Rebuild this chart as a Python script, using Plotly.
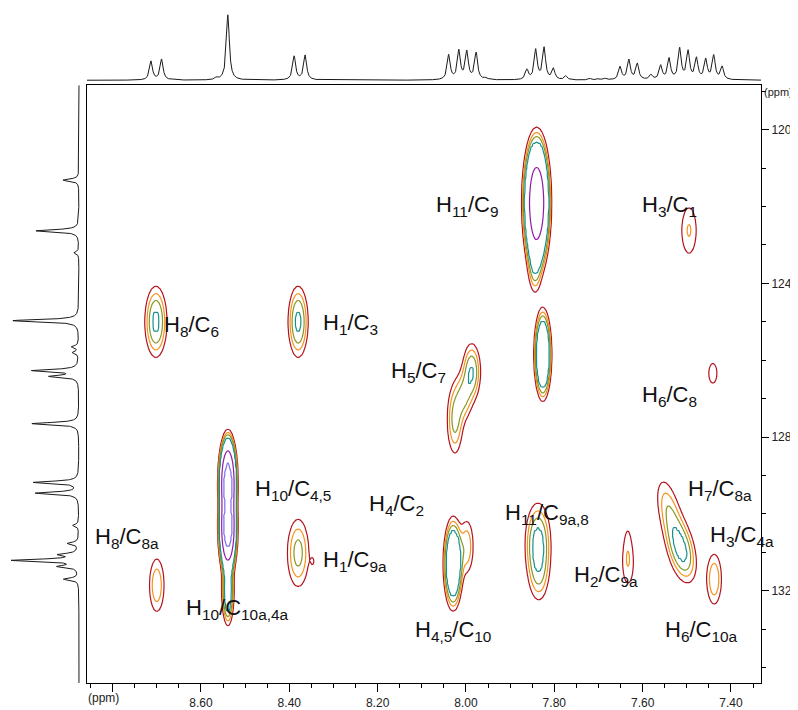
import numpy as np
import plotly.graph_objects as go

# page body has an 8 px margin: figure pixel = screen pixel - 8
OFF = 8
W, H = 790, 702

# ---------------- axis ranges (ppm) ----------------
H_RANGE = [8.858, 7.332]      # 1H, reversed
C_RANGE = [134.41, 118.84]    # 13C, reversed (top = 118.84)

# ---------------- 2D cross-peaks ----------------
pk_h   = [7.840, 7.844, 7.826, 8.539, 8.539, 8.539, 8.702, 8.380, 8.700, 8.380, 8.346,
          7.987, 8.005, 8.025, 8.029, 7.998, 7.837, 7.835, 7.633, 7.634, 7.495,
          7.441, 7.512, 7.540, 7.438]
pk_c   = [121.90, 123.40, 125.85, 129.20, 130.35, 132.00, 125.00, 125.00, 131.86, 131.02, 131.24,
          126.30, 126.95, 127.55, 131.30, 130.85, 130.75, 131.60, 131.30, 130.55, 122.62,
          126.34, 130.95, 129.95, 131.70]
pk_amp = [1.00, 0.06, 0.32, 2.40, 2.40, 0.15, 0.080, 0.080, 0.046, 0.0566, 0.015,
          0.072, 0.045, 0.055, 0.265, 0.045, 0.085, 0.035, 0.031, 0.012, 0.0343,
          0.024, 0.080, 0.045, 0.0468]
pk_sh  = [0.0122, 0.009, 0.0087, 0.0075, 0.0075, 0.0070, 0.0150, 0.0136, 0.0126, 0.0167, 0.005,
          0.0125, 0.012, 0.012, 0.010, 0.011, 0.0168, 0.015, 0.012, 0.008, 0.0154,
          0.015, 0.020, 0.020, 0.0125]
pk_sc  = [0.70, 0.50, 0.515, 0.45, 0.45, 0.45, 0.55, 0.55, 0.52, 0.60, 0.15,
          0.45, 0.40, 0.60, 0.54, 0.50, 0.60, 0.50, 0.52, 0.45, 0.56,
          0.41, 0.50, 0.60, 0.49]
pk_rho = [0, 0, 0, 0, 0, 0, 0, 0, 0, 0, 0,
          0, 0, 0, 0, 0, 0, 0, 0, 0, 0,
          0, -0.4, -0.5, 0]

contour_levels = [0.02, 0.033, 0.048, 0.07, 0.42, 0.95]
contour_colors = ["#b3131c", "#f7921e", "#8a961f", "#15908f", "#9218a6", "#7c6df2"]

# ---------------- 1H projection (top) ----------------
h1_ppm = [8.713, 8.689, 8.565, 8.539, 8.389, 8.364, 8.039, 8.016, 7.998, 7.977,
          7.955, 7.862, 7.842, 7.823, 7.802, 7.774, 7.720, 7.700, 7.685, 7.651,
          7.631, 7.612, 7.581, 7.559, 7.540, 7.516, 7.497, 7.478, 7.457, 7.439, 7.420]
h1_int = [19, 21, 2, 66, 24, 25, 25, 29, 28, 27,
          2, 10, 30, 32, 11, 4, 1.5, 1.5, 1.5, 13,
          20, 16, 5, 14, 21, 31, 28, 21, 20, 24, 13]

# ---------------- 13C projection (left) ----------------
c13_ppm = [121.31, 122.63, 123.20, 124.97, 125.65, 125.80, 126.27, 126.42, 127.65,
           129.18, 129.46, 130.30, 130.77, 131.06, 131.21, 131.37, 131.70]
c13_int = [16, 43, 5, 66, 7, 6, 46, 28, 47,
           45, 43, 6, 11, 18, 66, 19, 15]

# ---------------- cross-peak labels ----------------
lab_text = ["H<sub>11</sub>/C<sub>9</sub>", "H<sub>3</sub>/C<sub>1</sub>", "H<sub>5</sub>/C<sub>7</sub>",
            "H<sub>6</sub>/C<sub>8</sub>", "H<sub>8</sub>/C<sub>6</sub>", "H<sub>1</sub>/C<sub>3</sub>",
            "H<sub>10</sub>/C<sub>4,5</sub>", "H<sub>4</sub>/C<sub>2</sub>", "H<sub>8</sub>/C<sub>8a</sub>",
            "H<sub>1</sub>/C<sub>9a</sub>", "H<sub>10</sub>/C<sub>10a,4a</sub>", "H<sub>4,5</sub>/C<sub>10</sub>",
            "H<sub>11</sub>/C<sub>9a,8</sub>", "H<sub>2</sub>/C<sub>9a</sub>", "H<sub>7</sub>/C<sub>8a</sub>",
            "H<sub>3</sub>/C<sub>4a</sub>", "H<sub>6</sub>/C<sub>10a</sub>"]
lab_h = [8.0725, 7.606, 8.174, 7.606, 8.688, 8.328, 8.482, 8.224, 8.845,
         8.328, 8.638, 8.120, 7.916, 7.760, 7.502, 7.452, 7.554]
lab_c = [121.98, 121.98, 126.30, 126.92, 125.10, 125.05, 129.38, 129.77, 130.64,
         131.24, 132.47, 133.04, 130.00, 131.62, 129.38, 130.59, 133.04]

x_major = [8.80, 8.60, 8.40, 8.20, 8.00, 7.80, 7.60, 7.40]
x_major_text = ["", "8.60", "8.40", "8.20", "8.00", "7.80", "7.60", "7.40"]
y_major = [120, 124, 128, 132]

# ---------------- build 2D map ----------------
hx = np.arange(H_RANGE[1], H_RANGE[0], 0.002)
cy = np.arange(C_RANGE[1], C_RANGE[0], 0.08)
HH, CC = np.meshgrid(hx, cy)
Z = np.zeros_like(HH)
for h0, c0, a, sh, sc, rho in zip(pk_h, pk_c, pk_amp, pk_sh, pk_sc, pk_rho):
    u = (HH - h0) / sh
    v = (CC - c0) / sc
    q = (u * u - 2 * rho * u * v + v * v) / (1 - rho * rho)
    Z += a * np.exp(-0.5 * q)
# map intensity onto level-index space so that contours 0..5 sit on the chosen levels
xp = [0.0] + contour_levels + [1e3]
fp = list(range(-1, len(contour_levels) + 1))
Zi = np.round(np.interp(Z, xp, fp), 3)

# ---------------- 1D spectra ----------------
hs = np.arange(H_RANGE[1], H_RANGE[0], 0.0005)
h_spec = np.zeros_like(hs)
for p, a in zip(h1_ppm, h1_int):
    w = 0.004
    h_spec += a * w * w / ((hs - p) ** 2 + w * w)

cs = np.arange(C_RANGE[1], C_RANGE[0], 0.005)
c_spec = np.zeros_like(cs)
for p, a in zip(c13_ppm, c13_int):
    w = 0.035
    c_spec += a * w * w / ((cs - p) ** 2 + w * w)

# ---------------- figure ----------------
fig = go.Figure()

colorscale = [[i / (len(contour_colors) - 1), c] for i, c in enumerate(contour_colors)]
fig.add_trace(go.Contour(
    x=np.round(hx, 4), y=np.round(cy, 3), z=Zi,
    contours=dict(start=0, end=len(contour_levels) - 1, size=1, coloring="lines"),
    autocontour=False, colorscale=colorscale, zauto=False, zmin=0, zmax=len(contour_levels) - 1,
    showscale=False, line=dict(width=1.2), hoverinfo="skip", xaxis="x", yaxis="y"))

fig.add_trace(go.Scatter(x=np.round(hs, 5), y=np.round(h_spec, 3), mode="lines",
                         line=dict(color="#1a1a1a", width=1), xaxis="x2", yaxis="y2",
                         hoverinfo="skip"))
fig.add_trace(go.Scatter(x=np.round(c_spec, 3), y=np.round(cs, 4), mode="lines",
                         line=dict(color="#1a1a1a", width=1), xaxis="x3", yaxis="y3",
                         hoverinfo="skip"))


def px(x):
    return (x - OFF) / W


def py(y):
    return 1 - (y - OFF) / H


X0, X1 = px(87), px(761)
Y0, Y1 = py(690), py(86)
tickfont = dict(family="Arial, Liberation Sans, sans-serif", size=12, color="#222")

fig.update_layout(
    width=W, height=H, margin=dict(l=0, r=0, t=0, b=0),
    paper_bgcolor="white", plot_bgcolor="white", showlegend=False,
    xaxis=dict(domain=[X0, X1], range=H_RANGE, anchor="y", showline=True, linecolor="black",
               linewidth=1, mirror=True, ticks="outside", ticklen=8, tickcolor="black",
               tickmode="array", tickvals=x_major, ticktext=x_major_text, tickfont=tickfont,
               showgrid=False, zeroline=False,
               minor=dict(ticks="outside", ticklen=4, tickcolor="black", dtick=0.05, tick0=8.6,
                          showgrid=False)),
    yaxis=dict(domain=[Y0, Y1], range=C_RANGE, anchor="x", side="right", showline=True,
               linecolor="black", linewidth=1, mirror=True, ticks="outside", ticklen=7,
               tickcolor="black", tickmode="array", tickvals=y_major,
               ticktext=[str(v) for v in y_major], tickfont=tickfont, showgrid=False,
               zeroline=False,
               minor=dict(ticks="outside", ticklen=4, tickcolor="black", dtick=1, tick0=120,
                          showgrid=False)),
    xaxis2=dict(domain=[X0, X1], range=H_RANGE, anchor="y2", visible=False),
    yaxis2=dict(domain=[py(84), py(8)], range=[-3, 73], anchor="x2", visible=False),
    xaxis3=dict(domain=[px(8), px(84)], range=[71, -5], anchor="y3", visible=False),
    yaxis3=dict(domain=[Y0, Y1], range=C_RANGE, anchor="x3", visible=False),
)

ann = []
for t, hh, cc in zip(lab_text, lab_h, lab_c):
    ann.append(dict(text=t, x=hh, y=cc, xref="x", yref="y", xanchor="left", yanchor="middle",
                    showarrow=False, font=dict(family="Arial, Liberation Sans, sans-serif",
                                               size=22, color="#111")))
ann.append(dict(text="(ppm)", x=px(103), y=py(705), xref="paper", yref="paper",
                xanchor="center", yanchor="middle", showarrow=False, font=tickfont))
ann.append(dict(text="(ppm)", x=px(762), y=py(93), xref="paper", yref="paper",
                xanchor="left", yanchor="middle", showarrow=False,
                font=dict(family="Arial, Liberation Sans, sans-serif", size=11, color="#222")))
fig.update_layout(annotations=ann)

fig.write_html("out.html")
